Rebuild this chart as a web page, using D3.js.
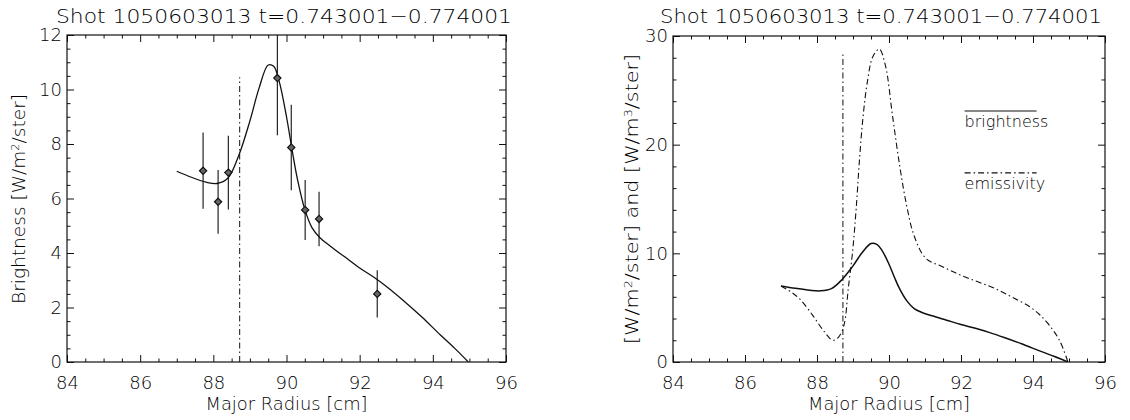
<!DOCTYPE html>
<html>
<head>
<meta charset="utf-8">
<script src="https://cdn.jsdelivr.net/npm/d3@7"></script>
<style>
  html, body { margin: 0; padding: 0; background: #fff; }
  svg { display: block; }
  text { font-family: "DejaVu Sans ExtraLight", "DejaVu Sans", "Liberation Sans", sans-serif; font-weight: 200; fill: #000; }
</style>
</head>
<body>
<svg id="chart" width="1130" height="420"></svg>
<script>
// Shot 1050603013, t = 0.743001 - 0.774001
const titleText = "Shot 1050603013 t=0.743001\u22120.774001";

// x axis (major radius, cm)
const radiusTicks = [84, 86, 88, 90, 92, 94, 96];
const radiusDomain = [84, 96];

// left panel y axis (brightness)
const brightTicks = [0, 2, 4, 6, 8, 10, 12];
const brightDomain = [0, 12];

// right panel y axis (brightness and emissivity)
const bothTicks = [0, 10, 20, 30];
const bothDomain = [0, 30];

// measured chords: radius, brightness, uncertainty
const measR   = [87.72, 88.13, 88.41, 89.75, 90.13, 90.51, 90.89, 92.48];
const measB   = [7.02, 5.88, 6.95, 10.42, 7.87, 5.58, 5.25, 2.50];
const measErr = [1.40, 1.17, 1.35, 2.10, 1.57, 1.10, 1.00, 0.87];

// fitted brightness profile
const fitR = [87.0, 87.4, 87.8, 88.1, 88.4, 88.7, 89.0, 89.25, 89.5, 89.65, 89.8, 90.0,
              90.15, 90.3, 90.5, 90.7, 90.9, 91.2, 91.6, 92.0, 92.4, 92.8, 93.2, 93.7,
              94.2, 94.6, 94.97];
const fitB = [7.0, 6.78, 6.6, 6.55, 6.75, 7.6, 8.85, 10.05, 10.9, 10.85, 10.3, 9.0,
              7.8, 6.7, 5.6, 4.92, 4.58, 4.25, 3.85, 3.45, 3.1, 2.7, 2.25, 1.65,
              1.0, 0.5, 0.0];

// inverted emissivity profile
const emisR = [87.0, 87.3, 87.55, 87.9, 88.2, 88.44, 88.6, 88.75, 88.87, 88.99, 89.09,
               89.18, 89.28, 89.4, 89.55, 89.73, 89.9, 90.1, 90.3, 90.49, 90.7, 91.02,
               91.5, 91.98, 92.45, 92.94, 93.4, 93.91, 94.2, 94.49, 94.75, 94.97];
const emisE = [7.0, 6.4, 5.7, 4.2, 2.8, 2.0, 2.3, 3.4, 6.8, 10.2, 14.2,
               18.6, 22.6, 25.8, 28.1, 28.8, 27.3, 22.6, 18.0, 14.4, 11.6, 9.55,
               8.75, 8.0, 7.4, 6.77, 6.0, 5.08, 4.3, 3.23, 1.9, 0.0];

// reference radius marker and its extent in each panel
const markerR = 88.72;
const markerTop = [10.45, 28.3];

// legend entries of the right panel
const legendNames = ["brightness", "emissivity"];

const svg = d3.select("#chart");
const DASHDOT = "6,3,1.5,3";

function minorTicks(domain, step, majors) {
  const out = [];
  for (let v = domain[0]; v <= domain[1] + 1e-9; v += step) {
    const r = Math.round(v * 100) / 100;
    if (!majors.some(m => Math.abs(m - r) < 1e-6)) out.push(r);
  }
  return out;
}

function panel(box, yDomain, yTicks, yMinorStep, yLabel, titleBox) {
  const g = svg.append("g");
  const x = d3.scaleLinear().domain(radiusDomain).range([box.x0, box.x1]);
  const y = d3.scaleLinear().domain(yDomain).range([box.y1, box.y0]);
  const xMinor = minorTicks(radiusDomain, 0.5, radiusTicks);
  const yMinor = minorTicks(yDomain, yMinorStep, yTicks);

  const axes = g.append("g").attr("class", "axes");
  const style = sel => {
    sel.select(".domain").remove();
    sel.selectAll("line").attr("stroke", "#111").attr("stroke-width", 1);
    sel.selectAll("text").style("font-size", "18px").attr("fill", "#000")
      .style("font-family", null).style("font-weight", null);
  };
  // bottom
  axes.append("g").attr("transform", `translate(0,${box.y1})`)
    .call(d3.axisBottom(x).tickValues(radiusTicks).tickSize(-7).tickPadding(14).tickFormat(d3.format("d")))
    .call(style);
  axes.append("g").attr("transform", `translate(0,${box.y1})`)
    .call(d3.axisBottom(x).tickValues(xMinor).tickSize(-3.5).tickFormat("")).call(style);
  // top
  axes.append("g").attr("transform", `translate(0,${box.y0})`)
    .call(d3.axisTop(x).tickValues(radiusTicks).tickSize(-7).tickFormat("")).call(style);
  axes.append("g").attr("transform", `translate(0,${box.y0})`)
    .call(d3.axisTop(x).tickValues(xMinor).tickSize(-3.5).tickFormat("")).call(style);
  // left
  axes.append("g").attr("transform", `translate(${box.x0},0)`)
    .call(d3.axisLeft(y).tickValues(yTicks).tickSize(-7).tickPadding(5).tickFormat(d3.format("d")))
    .call(style);
  axes.append("g").attr("transform", `translate(${box.x0},0)`)
    .call(d3.axisLeft(y).tickValues(yMinor).tickSize(-3.5).tickFormat("")).call(style);
  // right
  axes.append("g").attr("transform", `translate(${box.x1},0)`)
    .call(d3.axisRight(y).tickValues(yTicks).tickSize(-7).tickFormat("")).call(style);
  axes.append("g").attr("transform", `translate(${box.x1},0)`)
    .call(d3.axisRight(y).tickValues(yMinor).tickSize(-3.5).tickFormat("")).call(style);

  // frame
  g.append("rect")
    .attr("x", box.x0).attr("y", box.y0)
    .attr("width", box.x1 - box.x0).attr("height", box.y1 - box.y0)
    .attr("fill", "none").attr("stroke", "#111").attr("stroke-width", 1.2);

  // title
  g.append("text")
    .attr("x", titleBox.cx).attr("y", 23)
    .attr("text-anchor", "middle")
    .attr("textLength", titleBox.w).attr("lengthAdjust", "spacingAndGlyphs")
    .style("font-size", "20px")
    .text(titleText);

  // x title
  g.append("text")
    .attr("x", (box.x0 + box.x1) / 2).attr("y", 410)
    .attr("text-anchor", "middle")
    .attr("textLength", 162).attr("lengthAdjust", "spacingAndGlyphs")
    .style("font-size", "18px")
    .text("Major Radius [cm]");

  // y title with superscripts
  const yt = g.append("text")
    .attr("transform", `translate(${yLabel.x},${yLabel.cy}) rotate(-90)`)
    .attr("text-anchor", "middle")
    .attr("textLength", yLabel.len).attr("lengthAdjust", "spacingAndGlyphs")
    .style("font-size", "18px");
  yLabel.parts.forEach(p => {
    const t = yt.append("tspan").text(p.t);
    if (p.sup) t.attr("baseline-shift", "super").style("font-size", "11px");
  });

  const clipId = "clip" + Math.round(box.x0);
  g.append("clipPath").attr("id", clipId).append("rect")
    .attr("x", box.x0).attr("y", box.y0)
    .attr("width", box.x1 - box.x0).attr("height", box.y1 - box.y0);
  const plot = g.append("g").attr("clip-path", `url(#${clipId})`);

  return { g, plot, x, y };
}

const line = (x, y) => d3.line().x(d => x(d[0])).y(d => y(d[1])).curve(d3.curveCatmullRom.alpha(0.5));
const fitPts = fitR.map((r, i) => [r, fitB[i]]);
const emisPts = emisR.map((r, i) => [r, emisE[i]]);

// ---------- left panel: measured brightness and fit ----------
const L = panel({ x0: 67, x1: 506, y0: 35, y1: 362 }, brightDomain, brightTicks, 0.5,
  { x: 25, cy: 199, len: 210, parts: [{ t: "Brightness [W/m" }, { t: "2", sup: true }, { t: "/ster]" }] },
  { cx: 284, w: 456 });

L.plot.append("path")
  .datum(fitPts)
  .attr("d", line(L.x, L.y))
  .attr("fill", "none").attr("stroke", "#111").attr("stroke-width", 1.3);

L.plot.append("line")
  .attr("x1", L.x(markerR)).attr("x2", L.x(markerR))
  .attr("y1", L.y(0)).attr("y2", L.y(markerTop[0]))
  .attr("stroke", "#111").attr("stroke-width", 1).attr("stroke-dasharray", DASHDOT);

const meas = measR.map((r, i) => ({ r, b: measB[i], e: measErr[i] }));
L.plot.selectAll(".err").data(meas).join("line")
  .attr("class", "err")
  .attr("x1", d => L.x(d.r)).attr("x2", d => L.x(d.r))
  .attr("y1", d => L.y(d.b - d.e)).attr("y2", d => L.y(d.b + d.e))
  .attr("stroke", "#111").attr("stroke-width", 1.1);
L.plot.selectAll(".pt").data(meas).join("path")
  .attr("class", "pt")
  .attr("transform", d => `translate(${L.x(d.r)},${L.y(d.b)})`)
  .attr("d", "M0,-3.6L3.6,0L0,3.6L-3.6,0Z")
  .attr("fill", "#666").attr("stroke", "#111").attr("stroke-width", 1.2);

// ---------- right panel: brightness and emissivity ----------
const R = panel({ x0: 673, x1: 1105, y0: 36, y1: 362 }, bothDomain, bothTicks, 2,
  { x: 638, cy: 199, len: 290, parts: [{ t: "[W/m" }, { t: "2", sup: true }, { t: "/ster] and [W/m" }, { t: "3", sup: true }, { t: "/ster]" }] },
  { cx: 881, w: 442 });

R.plot.append("path")
  .datum(fitPts)
  .attr("d", line(R.x, R.y))
  .attr("fill", "none").attr("stroke", "#111").attr("stroke-width", 1.5);

R.plot.append("path")
  .datum(emisPts)
  .attr("d", line(R.x, R.y))
  .attr("fill", "none").attr("stroke", "#111").attr("stroke-width", 1.1)
  .attr("stroke-dasharray", DASHDOT);

R.plot.append("line")
  .attr("x1", R.x(markerR)).attr("x2", R.x(markerR))
  .attr("y1", R.y(0)).attr("y2", R.y(markerTop[1]))
  .attr("stroke", "#111").attr("stroke-width", 1).attr("stroke-dasharray", DASHDOT);

// legend: sample line drawn above each name
const legX = [92.1, 94.1];
const legY = [23.1, 17.4];
legendNames.forEach((name, i) => {
  R.g.append("line")
    .attr("x1", R.x(legX[0])).attr("x2", R.x(legX[1]))
    .attr("y1", R.y(legY[i])).attr("y2", R.y(legY[i]))
    .attr("stroke", "#111").attr("stroke-width", 1.1)
    .attr("stroke-dasharray", i === 0 ? null : DASHDOT);
  R.g.append("text")
    .attr("x", R.x(legX[0])).attr("y", R.y(legY[i]) + 16)
    .style("font-size", "16px")
    .text(name);
});
</script>
</body>
</html>
